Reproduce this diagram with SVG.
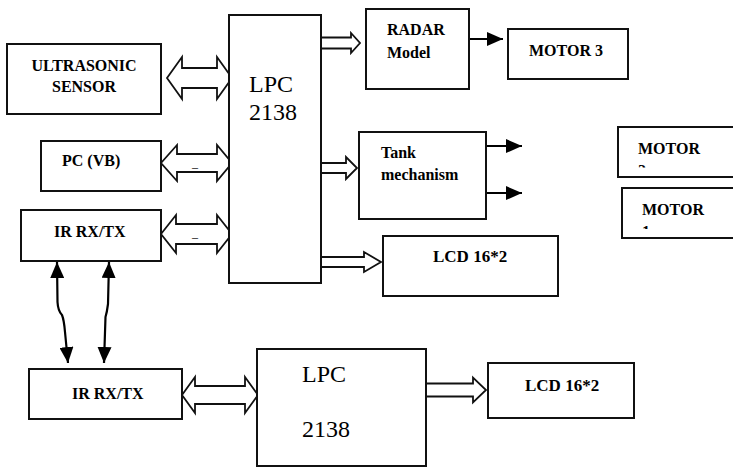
<svg xmlns="http://www.w3.org/2000/svg" width="733" height="467" viewBox="0 0 733 467">
<style>
.box{fill:#fff;stroke:#111;stroke-width:2}
.ha{fill:#fff;stroke:#111;stroke-width:1.8;stroke-linejoin:miter}
.ln{fill:none;stroke:#000;stroke-width:2.2}
.lb{font-weight:bold;font-size:16px}
.big{font-size:24px}
.lcd{font-weight:bold;font-size:17px}
.us{font-size:12px}
</style>
<defs>
<marker id="ah" viewBox="0 0 16 14" refX="16" refY="7" markerWidth="16" markerHeight="14" markerUnits="userSpaceOnUse" orient="auto-start-reverse">
<path d="M0,0 L16,7 L0,14 Z" fill="#000"/>
</marker>
<clipPath id="c1"><rect x="600" y="120" width="140" height="47.5"/></clipPath>
<clipPath id="c2"><rect x="600" y="180" width="140" height="49"/></clipPath>
</defs>

<g id="connectors">
<polygon class="ha" points="167,78 182,57 182,68 217,68 217,57 232,78 217,99 217,88 182,88 182,99"/>
<polygon class="ha" points="161,163 177,145 177,154 217,154 217,145 232,163 217,181 217,172 177,172 177,181"/>
<polygon class="ha" points="161,234 176,215 176,224 217,224 217,215 232,234 217,253 217,244 176,244 176,253"/>
<polygon class="ha" points="182,395 195,377 195,386 245,386 245,377 258,395 245,413 245,404 195,404 195,413"/>
<polygon class="ha" points="321,37.5 351,37.5 351,33 360,43 351,53 351,48.5 321,48.5"/>
<polygon class="ha" points="321,163 346,163 346,157 357,168 346,179 346,173 321,173"/>
<polygon class="ha" points="321,257 364,257 364,252 381,262 364,272 364,267 321,267"/>
<polygon class="ha" points="424,383.5 473,383.5 473,377.5 486,390 473,402.5 473,396.5 424,396.5"/>
<line class="ln" x1="469" y1="39" x2="503" y2="39" marker-end="url(#ah)"/>
<line class="ln" x1="486" y1="146" x2="522" y2="146" marker-end="url(#ah)"/>
<line class="ln" x1="486" y1="193" x2="522" y2="193" marker-end="url(#ah)"/>
<path class="ln" d="M57,262 L57.5,302 Q58,311 62,315 Q64,320 65,332 L68,363" marker-start="url(#ah)" marker-end="url(#ah)"/>
<path class="ln" d="M109,262 L108,304 Q107,312 105.5,317 L104,363" marker-start="url(#ah)" marker-end="url(#ah)"/>
</g>

<g font-family="Liberation Serif, DejaVu Serif, serif" fill="#000">
<text class="us" x="192" y="167">_</text>
<text class="us" x="192" y="237">_</text>
<g id="lpc-top">
<rect class="box" x="229" y="15" width="92" height="268"/>
<text class="big" x="249" y="92">LPC</text>
<text class="big" x="249" y="120">2138</text>
</g>
<g id="ultrasonic">
<rect class="box" x="7" y="44" width="154" height="70"/>
<text class="lb" x="84" y="71" text-anchor="middle">ULTRASONIC</text>
<text class="lb" x="84" y="92" text-anchor="middle">SENSOR</text>
</g>
<g id="pc">
<rect class="box" x="41" y="141" width="120" height="50"/>
<text class="lb" x="62" y="166">PC (VB)</text>
</g>
<g id="ir-top">
<rect class="box" x="21" y="210" width="140" height="51"/>
<text class="lb" x="54" y="237">IR RX/TX</text>
</g>
<g id="radar">
<rect class="box" x="366" y="9" width="103" height="80"/>
<text class="lb" x="387" y="35">RADAR</text>
<text class="lb" x="387" y="58">Model</text>
</g>
<g id="motor3">
<rect class="box" x="508" y="29" width="120" height="50"/>
<text class="lb" x="529" y="56">MOTOR 3</text>
</g>
<g id="tank">
<rect class="box" x="359" y="132" width="127" height="87"/>
<text class="lb" x="381" y="158">Tank</text>
<text class="lb" x="381" y="180">mechanism</text>
</g>
<g id="lcd-top">
<rect class="box" x="383" y="236" width="175" height="60"/>
<text class="lcd" x="433" y="262">LCD 16*2</text>
</g>
<g id="motor2">
<rect class="box" x="618" y="127" width="125" height="50"/>
<text class="lb" x="638" y="154">MOTOR</text>
<text class="lb" x="638" y="176" clip-path="url(#c1)">2</text>
</g>
<g id="motor1">
<rect class="box" x="622" y="188" width="121" height="50"/>
<text class="lb" x="642" y="215">MOTOR</text>
<text class="lb" x="642" y="237" clip-path="url(#c2)">1</text>
</g>
<g id="ir-bottom">
<rect class="box" x="29" y="369" width="153" height="50"/>
<text class="lb" x="72" y="399">IR RX/TX</text>
</g>
<g id="lpc-bottom">
<rect class="box" x="257" y="349" width="169" height="117"/>
<text class="big" x="302" y="382">LPC</text>
<text class="big" x="302" y="437">2138</text>
</g>
<g id="lcd-bottom">
<rect class="box" x="488" y="363" width="146" height="55"/>
<text class="lcd" x="525" y="391">LCD 16*2</text>
</g>
</g>
</svg>
